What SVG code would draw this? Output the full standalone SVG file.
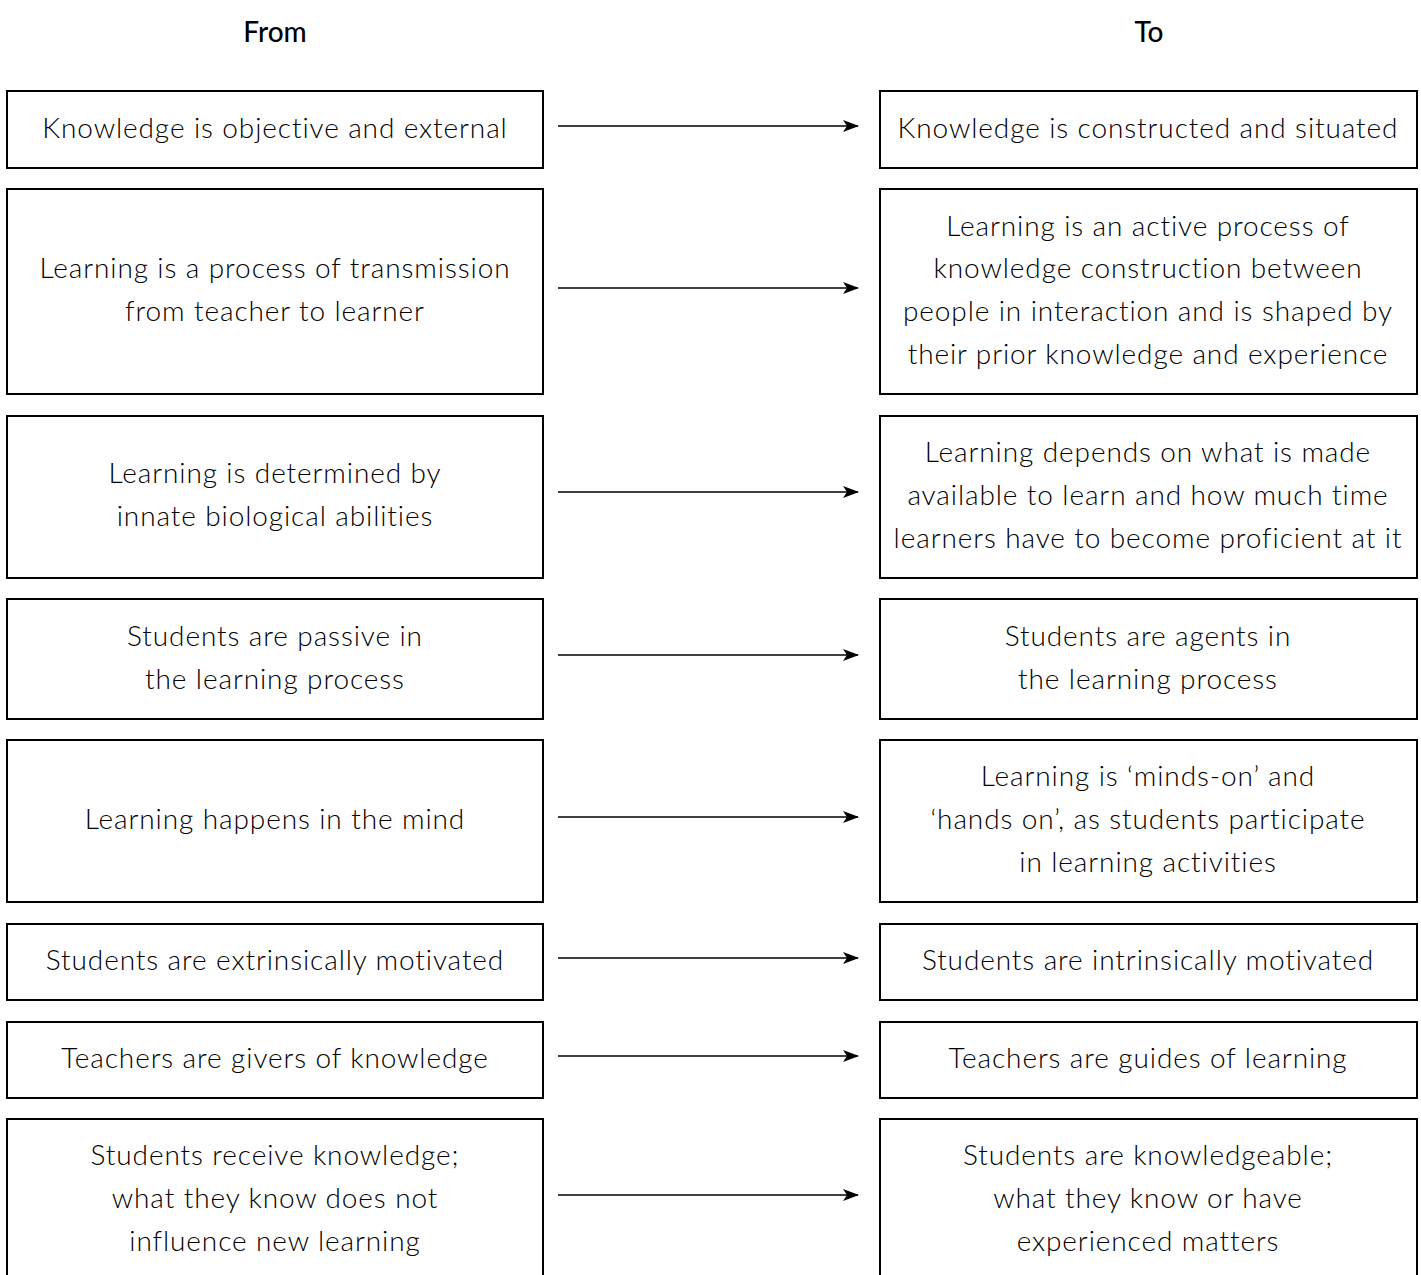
<svg xmlns="http://www.w3.org/2000/svg" width="1421" height="1275" viewBox="0 0 1421 1275">
<style>
.box{fill:#fff;stroke:#000;stroke-width:2}
.t{font-family:Lato,"Liberation Sans",sans-serif;font-size:28px;font-weight:300;fill:#000;text-anchor:middle;letter-spacing:0.9px}
.h{font-family:Lato,"Liberation Sans",sans-serif;font-size:28px;font-weight:500;fill:#000;text-anchor:middle}
.c{stroke:#000;stroke-width:1.5;fill:none;marker-end:url(#ah)}
</style>
<defs>
<marker id="ah" viewBox="0 0 16 12" refX="15" refY="6" markerWidth="16" markerHeight="12" markerUnits="userSpaceOnUse" orient="auto">
<path d="M0,0 L16,6 L0,12 L4,6 Z" fill="#000"/>
</marker>
</defs>
<rect width="1421" height="1275" fill="#fff"/>
<text class="h" x="275" y="42">From</text>
<text class="h" x="1149" y="42">To</text>

<g id="from1"><rect class="box" x="7" y="91" width="536" height="77"/><text class="t" x="275" y="138">Knowledge is objective and external</text></g>
<g id="to1"><rect class="box" x="880" y="91" width="537" height="77"/><text class="t" x="1148" y="138">Knowledge is constructed and situated</text></g>

<g id="from2"><rect class="box" x="7" y="189" width="536" height="205"/><text class="t" x="275" y="278">Learning is a process of transmission</text><text class="t" x="275" y="321">from teacher to learner</text></g>
<g id="to2"><rect class="box" x="880" y="189" width="537" height="205"/><text class="t" x="1148" y="236">Learning is an active process of</text><text class="t" x="1148" y="278">knowledge construction between</text><text class="t" x="1148" y="321">people in interaction and is shaped by</text><text class="t" x="1148" y="364">their prior knowledge and experience</text></g>

<g id="from3"><rect class="box" x="7" y="416" width="536" height="162"/><text class="t" x="275" y="483">Learning is determined by</text><text class="t" x="275" y="526">innate biological abilities</text></g>
<g id="to3"><rect class="box" x="880" y="416" width="537" height="162"/><text class="t" x="1148" y="462">Learning depends on what is made</text><text class="t" x="1148" y="505">available to learn and how much time</text><text class="t" x="1148" y="548">learners have to become proficient at it</text></g>

<g id="from4"><rect class="box" x="7" y="599" width="536" height="120"/><text class="t" x="275" y="646">Students are passive in</text><text class="t" x="275" y="689">the learning process</text></g>
<g id="to4"><rect class="box" x="880" y="599" width="537" height="120"/><text class="t" x="1148" y="646">Students are agents in</text><text class="t" x="1148" y="689">the learning process</text></g>

<g id="from5"><rect class="box" x="7" y="740" width="536" height="162"/><text class="t" x="275" y="829">Learning happens in the mind</text></g>
<g id="to5"><rect class="box" x="880" y="740" width="537" height="162"/><text class="t" x="1148" y="786">Learning is ‘minds-on’ and</text><text class="t" x="1148" y="829">‘hands on’, as students participate</text><text class="t" x="1148" y="872">in learning activities</text></g>

<g id="from6"><rect class="box" x="7" y="924" width="536" height="76"/><text class="t" x="275" y="970">Students are extrinsically motivated</text></g>
<g id="to6"><rect class="box" x="880" y="924" width="537" height="76"/><text class="t" x="1148" y="970">Students are intrinsically motivated</text></g>

<g id="from7"><rect class="box" x="7" y="1022" width="536" height="76"/><text class="t" x="275" y="1068">Teachers are givers of knowledge</text></g>
<g id="to7"><rect class="box" x="880" y="1022" width="537" height="76"/><text class="t" x="1148" y="1068">Teachers are guides of learning</text></g>

<g id="from8"><rect class="box" x="7" y="1119" width="536" height="200"/><text class="t" x="275" y="1165">Students receive knowledge;</text><text class="t" x="275" y="1208">what they know does not</text><text class="t" x="275" y="1251">influence new learning</text></g>
<g id="to8"><rect class="box" x="880" y="1119" width="537" height="200"/><text class="t" x="1148" y="1165">Students are knowledgeable;</text><text class="t" x="1148" y="1208">what they know or have</text><text class="t" x="1148" y="1251">experienced matters</text></g>

<g id="connectors">
<line class="c" x1="558" y1="126" x2="858" y2="126"/>
<line class="c" x1="558" y1="288" x2="858" y2="288"/>
<line class="c" x1="558" y1="492" x2="858" y2="492"/>
<line class="c" x1="558" y1="655" x2="858" y2="655"/>
<line class="c" x1="558" y1="817" x2="858" y2="817"/>
<line class="c" x1="558" y1="958" x2="858" y2="958"/>
<line class="c" x1="558" y1="1056" x2="858" y2="1056"/>
<line class="c" x1="558" y1="1195" x2="858" y2="1195"/>
</g>
</svg>
